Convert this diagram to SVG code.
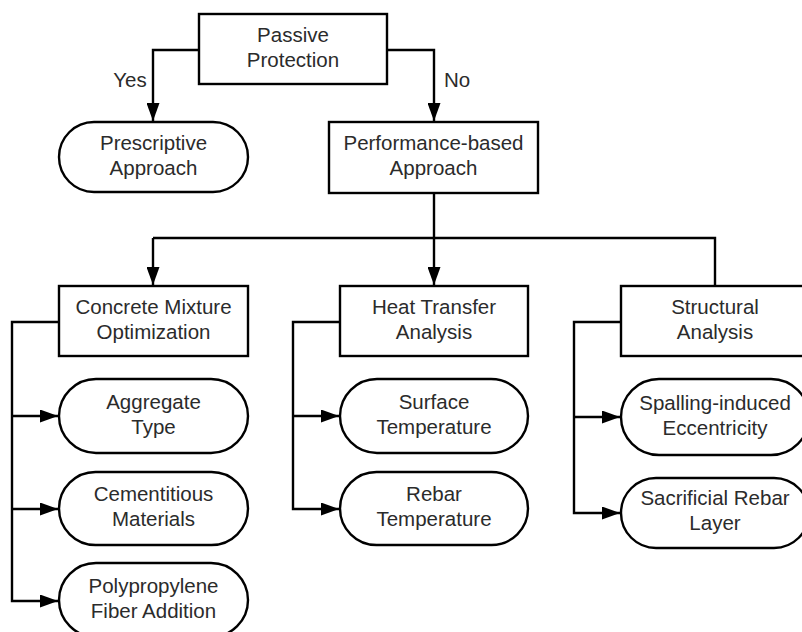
<svg xmlns="http://www.w3.org/2000/svg" width="802" height="632" viewBox="0 0 802 632">
<style>
.n{fill:#fff;stroke:#000;stroke-width:2.4}
.c{fill:none;stroke:#000;stroke-width:2.4}
text{font-family:"Liberation Sans",Arial,sans-serif;font-size:20.5px;fill:#2b2b2b;text-anchor:middle}
</style>
<defs>
<marker id="b" markerWidth="18" markerHeight="13" refX="18" refY="6.5" orient="auto" markerUnits="userSpaceOnUse" viewBox="0 0 18 13">
<path d="M0,0 L18,6.5 L0,13 Z" fill="#000"/>
</marker>
</defs>
<rect width="802" height="632" fill="#fff"/>
<g id="connectors">
<path class="c" d="M199,50 H153 V121" marker-end="url(#b)"/>
<path class="c" d="M387,50 H434 V121" marker-end="url(#b)"/>
<path class="c" d="M434,193 V238"/>
<path class="c" d="M153,238 H715 V286"/>
<path class="c" d="M153,238 V285" marker-end="url(#b)"/>
<path class="c" d="M434,238 V285" marker-end="url(#b)"/>
<path class="c" d="M59,322 H12 V601 H58" marker-end="url(#b)"/>
<path class="c" d="M12,416 H58" marker-end="url(#b)"/>
<path class="c" d="M12,509 H58" marker-end="url(#b)"/>
<path class="c" d="M340,322 H293 V509 H339" marker-end="url(#b)"/>
<path class="c" d="M293,416 H339" marker-end="url(#b)"/>
<path class="c" d="M621,322 H574 V513 H620" marker-end="url(#b)"/>
<path class="c" d="M574,417 H620" marker-end="url(#b)"/>
<text x="130" y="87">Yes</text>
<text x="457" y="87">No</text>
</g>
<g id="passive">
<rect class="n" x="199" y="14" width="188" height="70"/>
<text x="293" y="42">Passive</text>
<text x="293" y="67">Protection</text>
</g>
<g id="prescriptive">
<rect class="n" x="59" y="122" width="189" height="70" rx="35"/>
<text x="153.5" y="150">Prescriptive</text>
<text x="153.5" y="175">Approach</text>
</g>
<g id="performance">
<rect class="n" x="329" y="122" width="209" height="71"/>
<text x="433.5" y="150">Performance-based</text>
<text x="433.5" y="175">Approach</text>
</g>
<g id="concrete">
<rect class="n" x="59" y="286" width="189" height="70"/>
<text x="153.5" y="314">Concrete Mixture</text>
<text x="153.5" y="339">Optimization</text>
</g>
<g id="heat">
<rect class="n" x="340" y="286" width="188" height="70"/>
<text x="434" y="314">Heat Transfer</text>
<text x="434" y="339">Analysis</text>
</g>
<g id="structural">
<rect class="n" x="621" y="286" width="188" height="70"/>
<text x="715" y="314">Structural</text>
<text x="715" y="339">Analysis</text>
</g>
<g id="aggregate">
<rect class="n" x="59" y="379" width="189" height="74" rx="37"/>
<text x="153.5" y="409">Aggregate</text>
<text x="153.5" y="434">Type</text>
</g>
<g id="cementitious">
<rect class="n" x="59" y="472" width="189" height="73" rx="36.5"/>
<text x="153.5" y="501">Cementitious</text>
<text x="153.5" y="526">Materials</text>
</g>
<g id="polypropylene">
<rect class="n" x="59" y="563" width="189" height="74" rx="37"/>
<text x="153.5" y="593">Polypropylene</text>
<text x="153.5" y="618">Fiber Addition</text>
</g>
<g id="surface">
<rect class="n" x="340" y="379" width="188" height="74" rx="37"/>
<text x="434" y="409">Surface</text>
<text x="434" y="434">Temperature</text>
</g>
<g id="rebar">
<rect class="n" x="340" y="472" width="188" height="73" rx="36.5"/>
<text x="434" y="501">Rebar</text>
<text x="434" y="526">Temperature</text>
</g>
<g id="spalling">
<rect class="n" x="621" y="379" width="188" height="76" rx="38"/>
<text x="715" y="410">Spalling-induced</text>
<text x="715" y="435">Eccentricity</text>
</g>
<g id="sacrificial">
<rect class="n" x="621" y="478" width="188" height="70" rx="35"/>
<text x="715" y="505">Sacrificial Rebar</text>
<text x="715" y="530">Layer</text>
</g>
</svg>
